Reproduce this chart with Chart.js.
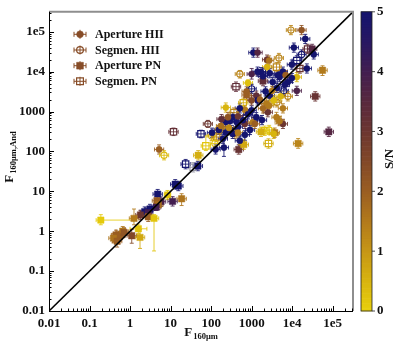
<!DOCTYPE html>
<html><head><meta charset="utf-8">
<script src="https://cdn.jsdelivr.net/npm/chart.js@4/dist/chart.umd.min.js"></script>
<style>html,body{margin:0;padding:0;background:#fff;overflow:hidden}</style>
</head><body>
<canvas id="c" width="403" height="343"></canvas>
<script>
// ---------- data ----------
const tickValues = [0.01, 0.1, 1, 10, 100, 1000, 1e4, 1e5];
const tickLabels = ["0.01", "0.1", "1", "10", "100", "1000", "1e4", "1e5"];
const axisMin = 0.01, axisMax = 316228;
const cbTicks = [0, 1, 2, 3, 4, 5];
const legendNames = ["Aperture HII", "Segmen. HII", "Aperture PN", "Segmen. PN"];
const xTitle = ["F", "160\u03bcm"];
const yTitle = ["F", "160\u03bcm,And"];
const cbTitle = "S/N";

// rows: [F160, F160And, S/N, xLow, xHigh, yLow, yHigh]
const apertureHII = [
 [1.7e4,1.1e5,2.2],[2.1e4,6.6e4,5],[1.1e4,4.0e4,5],[3.4e4,2.7e4,5],[1.1e3,3.0e4,5],[1.4e3,3.0e4,3.6],
 [2.4e3,2.0e4,3],[2.7e3,1.9e4,1.6],[2.4e3,1.3e4,0.5],[9.8e3,1.5e4,5],[2.3e4,1.2e4,5],
 [1.0e3,8.7e3,3.8,null,null,6.5e3,1.2e4],[1.3e4,7.3e3,0.5],[4.9e3,7.3e3,5],[7.8e3,5.5e3,5],[9.8e3,6.9e3,5],
 [1.3e4,3.3e3,3.8],[810,5.2e3,0.3,null,null,2.95e3,6.2e3],[2.2e3,3.2e3,5],[1.7e3,9.7e3,5],[750,3.2e3,2],
 [1.3e3,2.5e3,3.3],[2.8e3,2.5e3,5],[5.2e3,2.4e3,0.5],[5.9e3,1.2e3,1.5],[5.9e3,490,3],[4.9e3,575,1.5],
 [2.5e3,960,3.1],[2.3e3,1.6e3,1.5],[2.7e3,1.4e3,1.5],[680,1.1e3,1.5],[425,545,5],[680,490,3.1],
 [1.07e3,545,1.5],[385,275,1.5],[680,260,5,null,null,190,330],[3.5e3,275,0.5],[230,1.26e3,0.5],
 [5.2,112,2],[207,125,5,null,null,75,208],[129,112,5],[195,208,5],[340,275,5],[290,575,5],[230,545,5],
 [180,645,3.3],
 [1.4e3,1.0e4,5],[1.9e3,7.7e3,5],[2.8e3,9.1e3,5],[3.3e3,5.5e3,5],[4.2e3,3.9e3,5],[1.4e3,1.9e3,5],
 [510,1.2e3,5],[810,850,5],[1.0e3,1.07e3,5],[1.3e3,720,5],[1.8e3,610,5],[610,610,5],[460,410,5],
 [310,345,5],[910,345,5],[230,295,5],[155,345,5],[105,295,5],[510,186,5],[6.6e3,4.7e3,5],
 [4.4e3,8.2e3,5],[5.9e3,1.0e4,5],[345,720,5],
 [1.6e3,2.0e3,2],[990,1.9e3,2.5],[1.9e3,1.2e3,1.8],[1.2e3,490,2],[460,295,1.5],[275,390,1.2],
 [175,435,1.7],[260,720,2.2],[460,760,3],[3.2e3,3.3e3,1.5],[6.9e3,8.2e3,2],[3.5e3,1.9e3,0.4],
 [4.1e3,720,1.5,null,null,490,955]
];
const segmenHII = [
 [9.3e3,1.1e5,1.3],[1.7e4,2.7e4,5],[4.7e3,2.2e4,1.3],[510,8.7e3,1.3,null,null,6.9e3,1.07e4],
 [1.0e3,3.7e3,5],[6.2e3,3.3e3,5],[7.8e3,2.4e3,1.3],[83,490,3,null,null,400,600],[6.9,80,0.4],
 [103,245,0.6],[124,158,0.2],[2.7e3,345,0.2],[4.2e3,1.7e3,1.3]
];
const aperturePN = [
 [3.1e4,3.7e4,3.6],[5.6e4,1.08e4,1.5,null,null,8.0e3,1.4e4],[3.7e4,2.4e3,3.1],[8.0e4,310,3.6],
 [1.4e4,158,1.3,null,null,120,210],[480,112,3.1],[640,148,0.7],[1.7e3,310,0.6],[3.7e3,295,1.5],
 [1.9e3,5.8e3,3.3],[48,80,0.6],[750,2.6e3,2],[47,43,5],[13,15,5],[15.5,13.6,5],
 [8.4,8.1,0.2,7,10,6.2,10.5],[18.7,6.5,1.6,null,null,4.4,8.7],[4.8,8.5,5],[5.8,5.5,3.8],[4.6,5.8,2],
 [5.0,4.6,1.7],[11.2,5.6,4],[4.4,4.0,4,null,null,3.3,4.9],[3.1,3.6,5],[2.3,3.1,5],[2.8,2.9,4],
 [1.8,2.55,3],[2.8,2.3,2],[3.9,2.1,0.2,null,null,0.32,2.6],[1.25,2.1,1.5,null,null,1.45,3.6],
 [0.19,1.9,0.1,null,1.2,1.45,2.6],[1.6,1.15,0.2,1.0,2.6,null,null],[0.66,1.0,1.5,0.45,0.9,null,null],
 [0.45,0.81,2],[0.55,0.74,2],[0.71,0.93,2.2],[1.1,0.77,2.5,null,null,0.5,1.1],
 [1.76,0.7,0.7,null,null,0.37,1.1],[0.39,0.67,1.6],[0.48,0.56,2,null,null,0.4,0.75]
];
const segmenPN = [
 [2.4e4,3.7e4,3.3],[1.3e4,1.9e4,5],[1.55e4,1.2e4,3],[4.1e3,1.3e4,1.3],[2.2e3,9.8e3,5],[410,4.2e3,3.3],
 [620,1.66e3,0.6],[365,940,1.3],[2.1e3,330,0.2],[2.6e3,158,0.6],[11.8,310,3.2,null,null,250,385],
 [23.5,48,5],[56,275,5,null,null,220,340],[74,138,0.2,null,null,null,245],[137,230,1.3],[36,40,5.5],
 [165,365,1.3]
];

// ---------- styles ----------
const colorStops = [
 [0,[232,208,10]],[0.5,[216,180,14]],[1,[198,150,22]],[1.5,[178,122,28]],[2,[154,94,34]],
 [2.5,[130,72,40]],[3,[108,54,48]],[3.5,[88,40,62]],[4,[66,30,80]],[4.5,[40,24,98]],[5,[20,20,110]]
];
function snColor(v, a) {
  a = a == null ? 1 : a;
  if (v > 5) return `rgba(150,150,165,${a})`;
  v = Math.max(0, v);
  for (let i = 0; i < colorStops.length - 1; i++) {
    const [v0, c0] = colorStops[i], [v1, c1] = colorStops[i + 1];
    if (v <= v1) {
      const t = (v - v0) / (v1 - v0);
      const c = c0.map((q, k) => Math.round(q + (c1[k] - q) * t));
      return `rgba(${c[0]},${c[1]},${c[2]},${a})`;
    }
  }
  const c = colorStops[colorStops.length - 1][1];
  return `rgba(${c[0]},${c[1]},${c[2]},${a})`;
}
const SERIF = '"Liberation Serif", "DejaVu Serif", serif';
const groups = [
  {rows: apertureHII, style: 'circle', filled: true, r: 3.1},
  {rows: segmenHII, style: 'circle', filled: false, r: 3.1},
  {rows: aperturePN, style: 'rect', filled: true, r: 4.5},
  {rows: segmenPN, style: 'rect', filled: false, r: 4.5}
];

function mkDataset(g) {
  return {
    type: 'scatter',
    data: g.rows.map(p => ({x: p[0], y: p[1]})),
    pointStyle: g.style,
    pointRadius: g.r,
    pointHoverRadius: g.r,
    pointBackgroundColor: c => g.filled ? snColor(g.rows[c.dataIndex][2]) : 'rgba(255,255,255,0)',
    pointBorderColor: c => snColor(g.rows[c.dataIndex][2]),
    pointBorderWidth: g.filled ? 0.5 : 1.2,
    order: 1
  };
}

const errPlugin = {
  id: 'err',
  beforeDatasetsDraw(chart) {
    const ctx = chart.ctx, xs = chart.scales.x, ys = chart.scales.y;
    ctx.save();
    ctx.beginPath();
    ctx.rect(chart.chartArea.left, chart.chartArea.top, chart.chartArea.width, chart.chartArea.height);
    ctx.clip();
    groups.forEach(g => {
      const e = g.style === 'rect' ? g.r * 0.71 + 1.5 : g.r + 1.5;
      g.rows.forEach(p => {
        const px = xs.getPixelForValue(p[0]), py = ys.getPixelForValue(p[1]);
        const x1 = p[3] != null ? xs.getPixelForValue(p[3]) : px - e;
        const x2 = p[4] != null ? xs.getPixelForValue(p[4]) : px + e;
        const y1 = p[6] != null ? ys.getPixelForValue(p[6]) : py - e;
        const y2 = p[5] != null ? ys.getPixelForValue(p[5]) : py + e;
        ctx.strokeStyle = snColor(p[2], 0.85);
        ctx.lineWidth = 1;
        ctx.beginPath();
        ctx.moveTo(x1, py); ctx.lineTo(x2, py);
        ctx.moveTo(x1, py - 2); ctx.lineTo(x1, py + 2);
        ctx.moveTo(x2, py - 2); ctx.lineTo(x2, py + 2);
        ctx.moveTo(px, y1); ctx.lineTo(px, y2);
        ctx.moveTo(px - 2, y1); ctx.lineTo(px + 2, y1);
        ctx.moveTo(px - 2, y2); ctx.lineTo(px + 2, y2);
        ctx.stroke();
      });
    });
    ctx.restore();
  }
};

function drawSubText(ctx, main, sub, cx, cy) {
  ctx.font = 'bold 13px ' + SERIF;
  const w1 = ctx.measureText(main).width;
  ctx.font = 'bold 8.5px ' + SERIF;
  const w2 = ctx.measureText(sub).width;
  const x0 = cx - (w1 + w2 + 1) / 2;
  ctx.textAlign = 'left';
  ctx.textBaseline = 'alphabetic';
  ctx.font = 'bold 13px ' + SERIF;
  ctx.fillText(main, x0, cy + 4.5);
  ctx.font = 'bold 8.5px ' + SERIF;
  ctx.fillText(sub, x0 + w1 + 1, cy + 7.5);
}

const decoPlugin = {
  id: 'deco',
  afterDraw(chart) {
    const ctx = chart.ctx, a = chart.chartArea, xs = chart.scales.x, ys = chart.scales.y;
    ctx.save();
    // frame
    ctx.strokeStyle = '#8e8e8e'; ctx.lineWidth = 2;
    ctx.beginPath();
    ctx.moveTo(a.left, a.top); ctx.lineTo(a.right, a.top); ctx.lineTo(a.right, a.bottom);
    ctx.stroke();
    ctx.strokeStyle = '#000'; ctx.lineWidth = 1;
    ctx.beginPath();
    ctx.moveTo(a.left + 0.5, a.top); ctx.lineTo(a.left + 0.5, a.bottom + 0.5); ctx.lineTo(a.right, a.bottom + 0.5);
    ctx.stroke();
    // log ticks (inward)
    ctx.beginPath();
    for (let k = -2; k <= 5; k++) {
      for (let m = 1; m <= 9; m++) {
        const v = m * Math.pow(10, k);
        if (v < axisMin || v > axisMax) continue;
        const len = m === 1 ? 5 : 2.5;
        const px = Math.round(xs.getPixelForValue(v)) + 0.5;
        ctx.moveTo(px, a.bottom); ctx.lineTo(px, a.bottom - len);
        const py = Math.round(ys.getPixelForValue(v)) + 0.5;
        ctx.moveTo(a.left, py); ctx.lineTo(a.left + len, py);
      }
    }
    ctx.stroke();

    // legend
    const lx = 80, lt = 95, rowsY = [34.3, 50, 65.7, 81.3];
    const lc = snColor(2.4);
    groups.forEach((g, i) => {
      const y = rowsY[i];
      ctx.strokeStyle = lc; ctx.lineWidth = 1;
      ctx.beginPath();
      ctx.moveTo(lx - 6, y); ctx.lineTo(lx + 6, y);
      ctx.moveTo(lx - 6, y - 2.5); ctx.lineTo(lx - 6, y + 2.5);
      ctx.moveTo(lx + 6, y - 2.5); ctx.lineTo(lx + 6, y + 2.5);
      ctx.moveTo(lx, y - 4.5); ctx.lineTo(lx, y + 4.5);
      ctx.stroke();
      ctx.beginPath();
      if (g.style === 'circle') ctx.arc(lx, y, 3.4, 0, Math.PI * 2);
      else ctx.rect(lx - 3.4, y - 3.4, 6.8, 6.8);
      if (g.filled) { ctx.fillStyle = lc; ctx.fill(); }
      ctx.lineWidth = g.filled ? 0.5 : 1.2; ctx.strokeStyle = lc; ctx.stroke();
      ctx.fillStyle = '#111';
      ctx.font = 'bold 12px ' + SERIF;
      ctx.textAlign = 'left'; ctx.textBaseline = 'middle';
      ctx.fillText(legendNames[i], lt, y + 0.5);
    });

    // colorbar
    const cbL = 361, cbR = 372, cbT = a.top, cbB = a.bottom;
    const n = 120;
    for (let i = 0; i < n; i++) {
      const v0 = 5 * i / n;
      const yb = cbB - (cbB - cbT) * i / n, yt = cbB - (cbB - cbT) * (i + 1) / n;
      ctx.fillStyle = snColor(v0 + 2.5 / n);
      ctx.fillRect(cbL, yt - 0.3, cbR - cbL, yb - yt + 0.6);
    }
    ctx.strokeStyle = '#222'; ctx.lineWidth = 0.8;
    ctx.strokeRect(cbL, cbT, cbR - cbL, cbB - cbT);
    ctx.fillStyle = '#111'; ctx.font = 'bold 13px ' + SERIF;
    ctx.textAlign = 'left'; ctx.textBaseline = 'middle';
    cbTicks.forEach(t => {
      const y = cbB - (cbB - cbT) * t / 5;
      ctx.beginPath(); ctx.moveTo(cbR, y); ctx.lineTo(cbR + 3, y); ctx.stroke();
      ctx.fillText(String(t), cbR + 5, y);
    });
    ctx.save();
    ctx.translate(390, 159);
    ctx.rotate(-Math.PI / 2);
    ctx.textAlign = 'center'; ctx.textBaseline = 'middle';
    ctx.font = 'bold 13px ' + SERIF;
    ctx.fillText(cbTitle, 0, 0);
    ctx.restore();

    // axis titles
    ctx.fillStyle = '#111';
    drawSubText(ctx, xTitle[0], xTitle[1], 201, 331);
    ctx.save();
    ctx.translate(8, 157);
    ctx.rotate(-Math.PI / 2);
    drawSubText(ctx, yTitle[0], yTitle[1], 0, 0);
    ctx.restore();
    ctx.restore();
  }
};

const tickFont = {family: SERIF, size: 13, weight: 'bold'};
const ctx = document.getElementById('c').getContext('2d');
new Chart(ctx, {
  type: 'scatter',
  data: {
    datasets: [
      {type: 'line', data: [{x: axisMin, y: axisMin}, {x: axisMax, y: axisMax}], borderColor: '#000',
       borderWidth: 1.6, pointRadius: 0, order: 0},
      ...groups.map(mkDataset)
    ]
  },
  options: {
    responsive: false, animation: false, devicePixelRatio: 1,
    layout: {padding: {left: 0, right: 50, top: 5, bottom: 0}},
    plugins: {legend: {display: false}, tooltip: {enabled: false}},
    scales: {
      x: {
        type: 'logarithmic', min: axisMin, max: axisMax,
        afterFit(s) { s.height = 32; },
        afterBuildTicks(s) { s.ticks = tickValues.map(v => ({value: v})); },
        ticks: {callback: (v, i) => tickLabels[i], font: tickFont, color: '#111', padding: 5,
                maxRotation: 0, autoSkip: false},
        grid: {display: false, drawTicks: false}, border: {display: false}
      },
      y: {
        type: 'logarithmic', min: axisMin, max: axisMax,
        afterFit(s) { s.width = 49; },
        afterBuildTicks(s) { s.ticks = tickValues.map(v => ({value: v})); },
        ticks: {callback: (v, i) => tickLabels[i], font: tickFont, color: '#111', padding: 4,
                autoSkip: false},
        grid: {display: false, drawTicks: false}, border: {display: false}
      }
    }
  },
  plugins: [errPlugin, decoPlugin]
});
</script>
</body></html>
